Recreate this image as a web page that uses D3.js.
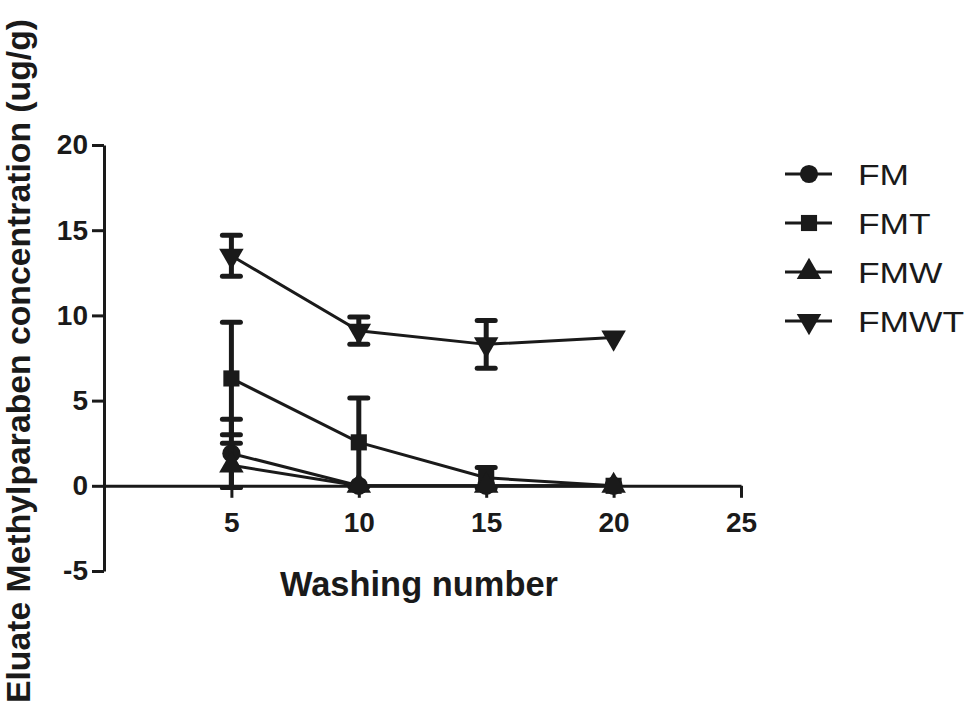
<!DOCTYPE html>
<html>
<head>
<meta charset="utf-8">
<script src="https://cdn.jsdelivr.net/npm/d3@7/dist/d3.min.js"></script>
<style>
  body { margin: 0; background: #fff; }
  text { font-family: "Liberation Sans", Arial, sans-serif; fill: #1a1a1a; }
</style>
</head>
<body>
<div id="chart"></div>
<script>
// washing number
var washes = [5, 10, 15, 20];
var seriesNames = ["FM", "FMT", "FMW", "FMWT"];
var symbols = [d3.symbolCircle, d3.symbolSquare, d3.symbolTriangle, "down"];

// mean values (ug/g)
var fmMean = [1.9, 0, 0, 0];
var fmtMean = [6.3, 2.55, 0.47, 0];
var fmwMean = [1.2, 0, 0, 0];
var fmwtMean = [13.5, 9.1, 8.3, 8.7];

// error (sd)
var fmErr = [2.0, 0, 0, 0];
var fmtErr = [3.3, 2.6, 0.6, 0];
var fmwErr = [1.3, 0, 0, 0];
var fmwtErr = [1.2, 0.8, 1.4, 0];

var xTicks = [5, 10, 15, 20, 25];
var yTicks = [-5, 0, 5, 10, 15, 20];

var means = [fmMean, fmtMean, fmwMean, fmwtMean];
var errs = [fmErr, fmtErr, fmwErr, fmwtErr];

var width = 966, height = 714;
var ink = "#1a1a1a";

var svg = d3.select("#chart").append("svg")
    .attr("width", width)
    .attr("height", height);

var x = d3.scaleLinear().domain([0, 25]).range([104, 741]);
var y = d3.scaleLinear().domain([-5, 20]).range([571, 145]);

function plain(d) { return String(d); }

// y axis
var yAxis = svg.append("g")
    .attr("transform", "translate(104,0)")
    .call(d3.axisLeft(y).tickValues(yTicks).tickFormat(plain)
        .tickSize(12).tickPadding(4).tickSizeOuter(0));
yAxis.select(".domain").attr("stroke", ink).attr("stroke-width", 3);
yAxis.selectAll(".tick line").attr("stroke", ink).attr("stroke-width", 3);
yAxis.selectAll(".tick text")
    .style("font-size", "28px").style("font-weight", "bold").attr("fill", ink);

// x axis at y = 0
var xAxis = svg.append("g")
    .attr("transform", "translate(0," + y(0) + ")")
    .call(d3.axisBottom(x).tickValues(xTicks).tickFormat(plain)
        .tickSize(12).tickPadding(14).tickSizeOuter(0));
xAxis.select(".domain").attr("stroke", ink).attr("stroke-width", 3);
xAxis.selectAll(".tick line").attr("stroke", ink).attr("stroke-width", 3);
xAxis.selectAll(".tick text")
    .style("font-size", "28px").style("font-weight", "bold").attr("fill", ink);

// axis titles
svg.append("text")
    .attr("x", 419).attr("y", 596)
    .attr("text-anchor", "middle")
    .attr("textLength", 278).attr("lengthAdjust", "spacingAndGlyphs")
    .style("font-size", "35px").style("font-weight", "bold")
    .text("Washing number");

svg.append("text")
    .attr("transform", "translate(30,361) rotate(-90)")
    .attr("text-anchor", "middle")
    .attr("textLength", 684).attr("lengthAdjust", "spacingAndGlyphs")
    .style("font-size", "33px").style("font-weight", "bold")
    .text("Eluate Methylparaben concentration (ug/g)");

function symPath(s, size) {
    if (s === "down") {
        return d3.symbol().type(d3.symbolTriangle).size(size)();
    }
    return d3.symbol().type(s).size(size)();
}
function symRotate(s) {
    return s === "down" ? " rotate(180)" : "";
}

var line = d3.line()
    .x(function(d) { return x(d.x); })
    .y(function(d) { return y(d.y); });

// draw each series
seriesNames.forEach(function(name, i) {
    var pts = washes.map(function(w, j) {
        return { x: w, y: means[i][j], e: errs[i][j] };
    });
    var g = svg.append("g").attr("class", "series");

    g.append("path")
        .datum(pts)
        .attr("fill", "none")
        .attr("stroke", ink)
        .attr("stroke-width", 3)
        .attr("d", line);

    var eb = g.selectAll("g.err")
        .data(pts.filter(function(d) { return d.e > 0; }))
        .enter().append("g").attr("class", "err");
    eb.append("line")
        .attr("x1", function(d) { return x(d.x); })
        .attr("x2", function(d) { return x(d.x); })
        .attr("y1", function(d) { return y(d.y - d.e); })
        .attr("y2", function(d) { return y(d.y + d.e); })
        .attr("stroke", ink).attr("stroke-width", 5);
    [-1, 1].forEach(function(sgn) {
        eb.append("line")
            .attr("x1", function(d) { return x(d.x) - 9; })
            .attr("x2", function(d) { return x(d.x) + 9; })
            .attr("y1", function(d) { return y(d.y + sgn * d.e); })
            .attr("y2", function(d) { return y(d.y + sgn * d.e); })
            .attr("stroke", ink).attr("stroke-width", 5)
            .attr("stroke-linecap", "round");
    });

    g.selectAll("path.pt")
        .data(pts)
        .enter().append("path")
        .attr("class", "pt")
        .attr("d", symPath(symbols[i], 260))
        .attr("transform", function(d) {
            return "translate(" + x(d.x) + "," + y(d.y) + ")" + symRotate(symbols[i]);
        })
        .attr("fill", ink);
});

// legend
var legend = svg.append("g");
seriesNames.forEach(function(name, i) {
    var ly = 174 + i * 49;
    legend.append("line")
        .attr("x1", 785).attr("x2", 832)
        .attr("y1", ly).attr("y2", ly)
        .attr("stroke", ink).attr("stroke-width", 3);
    legend.append("path")
        .attr("d", symPath(symbols[i], 260))
        .attr("transform", "translate(809," + ly + ")" + symRotate(symbols[i]))
        .attr("fill", ink);
    legend.append("text")
        .attr("transform", "translate(858," + (ly + 11) + ") scale(1.18,1)")
        .style("font-size", "30px")
        .text(name);
});
</script>
</body>
</html>
